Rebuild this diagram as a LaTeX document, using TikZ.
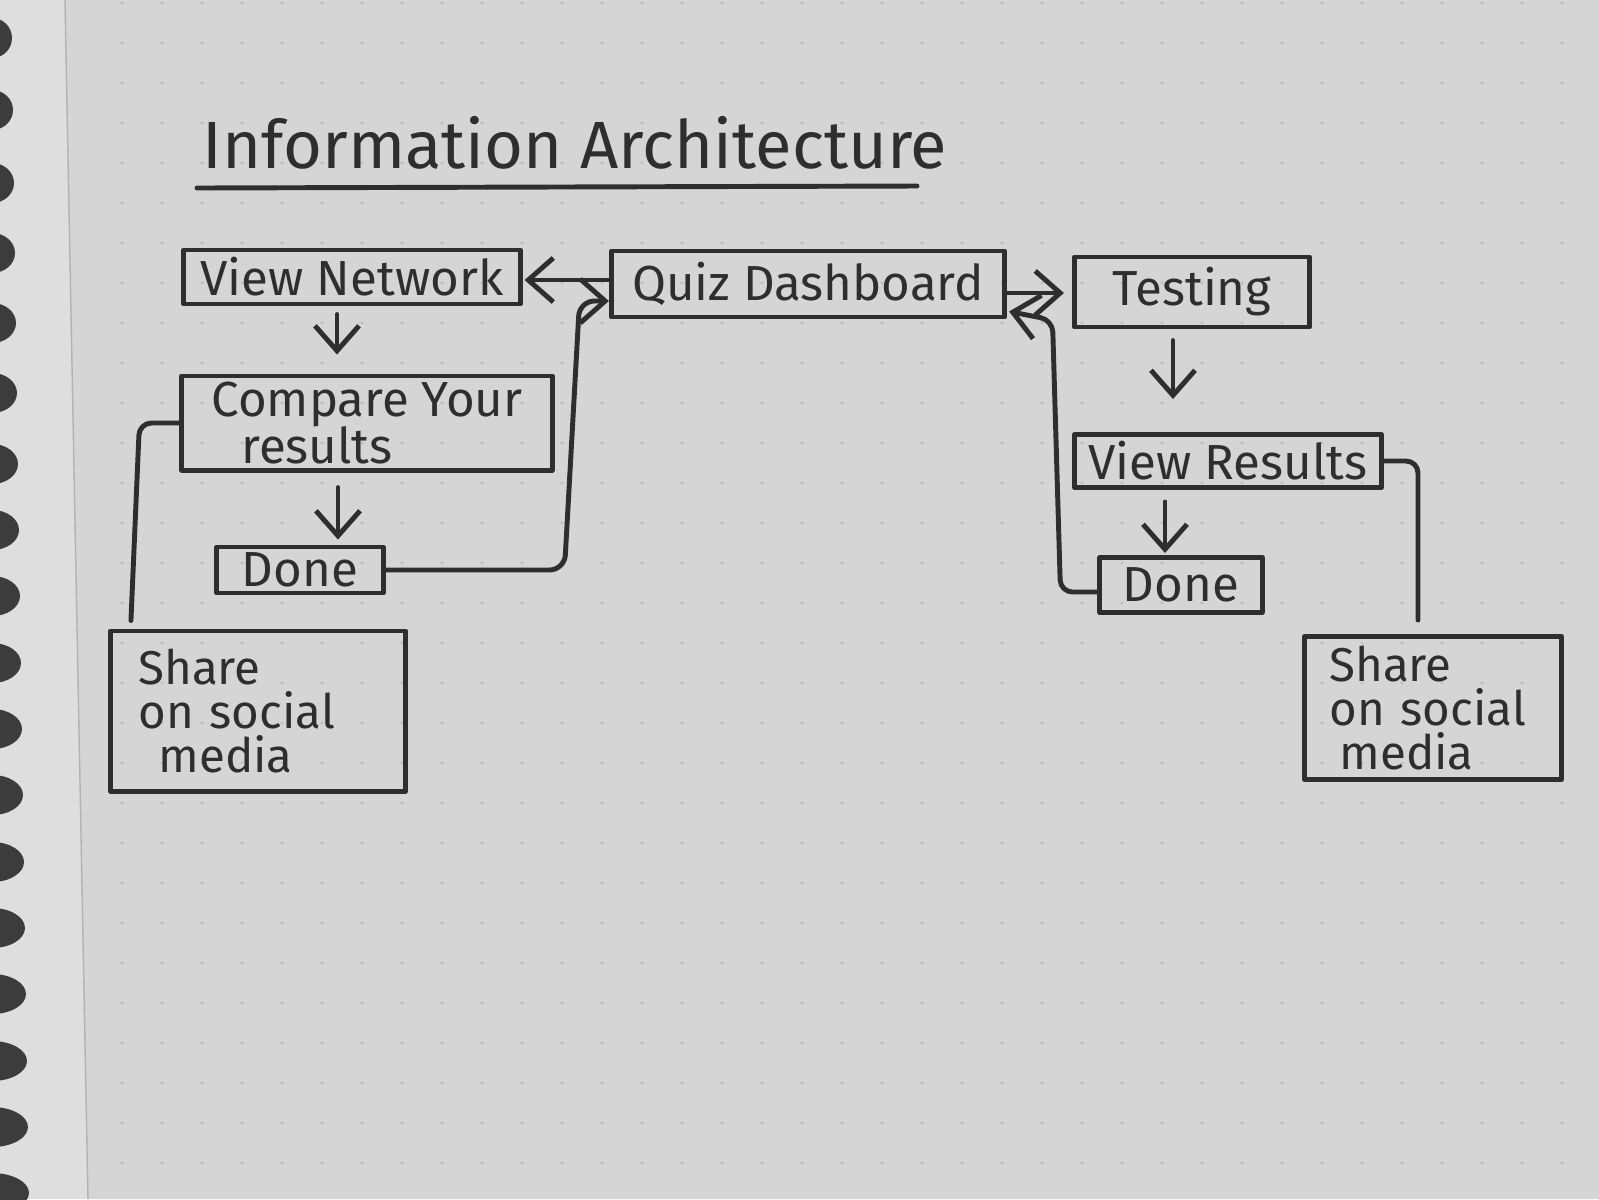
\documentclass[tikz,border=0pt]{standalone}
\usepackage{fontspec}
\setmainfont{Fira Sans}
\usetikzlibrary{arrows.meta,calc}
\definecolor{inkc}{HTML}{2E2E2E}
\definecolor{paperc}{HTML}{D5D5D5}
\definecolor{stripc}{HTML}{DEDEDE}
\definecolor{dotc}{HTML}{BDBDBD}
\definecolor{ringc}{HTML}{3C3C3C}
\tikzset{
  ink/.style={draw=inkc, line width=1.4pt, line cap=round, line join=round},
  box/.style={ink, rectangle, inner sep=0pt, text=inkc, font=\fontsize{14}{16}\selectfont},
  sharebox/.style={box, align=left, font=\fontsize{13.5}{12.5}\selectfont},
  arr/.style={ink, -{Straight Barb[length=0.25cm, width=0.44cm]}},
  link/.style={ink, rounded corners=0.12cm},
  titletext/.style={text=inkc, inner sep=0pt, font=\fontsize{19}{22}\selectfont}
}
\begin{document}
\begin{tikzpicture}[x=0.01cm, y=-0.01cm]
\useasboundingbox (0,0) rectangle (1599,1199);
% paper
\fill[stripc] (0,0) rectangle (1599,1199);
\fill[paperc] (65,0) -- (1599,0) -- (1599,1199) -- (88,1199) -- cycle;
\draw[gray!60, line width=0.4pt] (65,0) -- (88,1199);
% dot grid
\foreach \i in {3,...,39}{
  \foreach \j in {0,...,29}{
    \fill[dotc] (2+40*\i, 3+40*\j) circle[radius=1.6];
  }
}
% spiral rings
\foreach \yy/\rr in {38/20,110/21,183/22,253/23,323/24,393/25,464/26,530/27,596/28,663/29,729/30,795/31,862/32,928/33,994/34,1061/35,1127/36,1193/37}{
  \fill[ringc] (-8,\yy) ellipse[x radius=\rr, y radius=20];
}
% title
\node[titletext, anchor=base west] (ttl) at (202,168) {Information Architecture};
\coordinate (ula) at (197,188);
\coordinate (ulb) at (917,186);
\draw[ink] (ula) -- (ulb);
% boxes
\node[box, minimum width=3.36cm, minimum height=0.54cm] (vn) at (352,277) {View Network};
\node[box, minimum width=3.93cm, minimum height=0.66cm] (qd) at (808,284) {Quiz Dashboard};
\node[box, minimum width=2.35cm, minimum height=0.70cm] (te) at (1192,292) {Testing};
\node[box, minimum width=3.70cm, minimum height=0.94cm, align=left, font=\fontsize{14}{13.5}\selectfont] (cy) at (367,423) {Compare Your\\\hspace*{0.3cm}results};
\node[box, minimum width=1.66cm, minimum height=0.46cm] (d1) at (300,570) {Done};
\node[sharebox, inner xsep=0.28cm, text width=2.39cm, minimum height=1.60cm] (sh1) at (258,711) {Share\\on social\\\hspace*{0.2cm}media};
\node[box, minimum width=3.07cm, minimum height=0.53cm] (vr) at (1228,461) {View Results};
\node[box, minimum width=1.62cm, minimum height=0.55cm] (d2) at (1181,585) {Done};
\node[sharebox, inner xsep=0.25cm, text width=2.07cm, minimum height=1.43cm] (sh2) at (1433,708) {Share\\on social\\\hspace*{0.1cm}media};
% connectors
\draw[arr] ($(qd.west)+(0,-4)$) -- ($(vn.east)+(2,3)$);
\draw[arr, rounded corners=0.15cm] (d1.east) -- ++(179,0) -- ++(15,-269) -- ($(qd.west)+(0,17)$);
\draw[arr] ($(qd.east)+(0,9)$) -- ($(te.west)+(-8,1)$);
\draw[arr, rounded corners=0.12cm] ($(d2.west)+(0,7)$) -- ++(-37,0) -- ++(-8,-272) -- ($(qd.south east)+(2,-8)$);
\draw[arr] ($(te.south)+(-19,11)$) -- ($(vr.north)+(-55,-33)$);
\draw[arr] ($(vr.south)+(-63,12)$) -- ($(d2.north)+(-16,-2)$);
\draw[link] (vr.east) -| ($(sh2.north)+(-15,-14)$);
\draw[arr] ($(vn.south)+(-15,8)$) -- ($(cy.north)+(-30,-19)$);
\draw[arr] ($(cy.south)+(-29,15)$) -- ($(d1.north)+(38,-5)$);
\draw[link] (cy.west) -- ++(-40,0) -- ($(sh1.north west)+(23,-8)$);
\end{tikzpicture}
\end{document}
